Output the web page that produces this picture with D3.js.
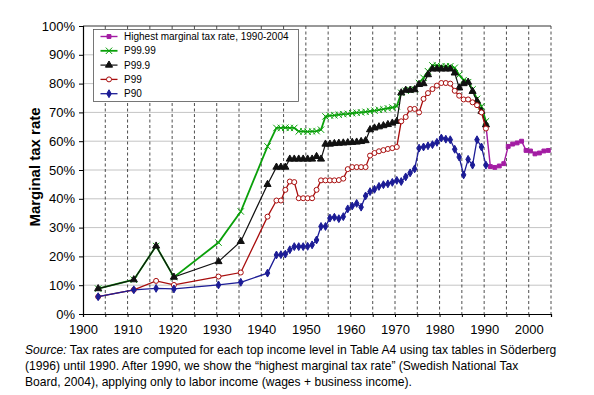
<!DOCTYPE html>
<html>
<head>
<meta charset="utf-8">
<script src="https://cdn.jsdelivr.net/npm/d3@7"></script>
<style>
  body { margin: 0; background: #fff; }
  text { font-family: "Liberation Sans", Arial, sans-serif; }
</style>
</head>
<body>
<div id="chart"></div>
<script>
// Years with data for the top percentiles (sparse before 1943, annual after)
const years = [1903, 1911, 1916, 1920, 1930, 1935, 1941,
  1943, 1944, 1945, 1946, 1947, 1948, 1949, 1950, 1951, 1952,
  1953, 1954, 1955, 1956, 1957, 1958, 1959, 1960, 1961, 1962,
  1963, 1964, 1965, 1966, 1967, 1968, 1969, 1970, 1971, 1972,
  1973, 1974, 1975, 1976, 1977, 1978, 1979, 1980, 1981, 1982,
  1983, 1984, 1985, 1986, 1987, 1988, 1989, 1990];

// Marginal tax rates in percent
const p9999 = [8.8, 11.9, 23.6, 12.8, 24.8, 35.6, 58.2,
  64.6, 64.6, 64.7, 64.6, 64.6, 63.4, 63.4, 63.3, 63.4, 63.5,
  64.0, 68.6, 68.9, 69.0, 69.2, 69.4, 69.5, 69.7, 69.9, 70.0,
  70.2, 70.4, 70.6, 70.9, 71.1, 71.4, 71.7, 72.1, 76.8, 77.5,
  77.8, 78.0, 80.2, 82.0, 84.3, 86.3, 86.3, 86.0, 86.0, 86.0,
  85.5, 83.0, 81.2, 80.5, 78.0, 74.7, 72.1, 66.9];

const p999 = [8.8, 11.9, 23.6, 12.8, 18.2, 25.2, 45.0,
  51.0, 51.0, 51.0, 53.8, 53.8, 53.8, 53.8, 53.8, 53.8, 54.7,
  53.8, 59.0, 59.0, 59.2, 59.3, 59.4, 59.5, 59.6, 59.7, 59.9,
  60.2, 64.0, 64.6, 65.0, 65.4, 65.8, 66.3, 66.9, 76.8, 77.7,
  77.7, 77.9, 79.7, 80.0, 83.1, 85.1, 85.1, 85.1, 85.1, 85.1,
  83.7, 78.5, 80.0, 80.5, 77.3, 73.9, 70.4, 65.7];

const p99 = [6.0, 8.4, 11.5, 10.1, 13.0, 14.4, 33.8,
  39.4, 39.4, 43.1, 46.0, 45.8, 40.2, 40.2, 40.2, 40.2, 43.1,
  46.4, 46.4, 46.4, 46.4, 46.5, 47.0, 50.3, 51.0, 51.0, 51.0,
  51.0, 55.0, 55.9, 56.5, 56.9, 57.3, 57.6, 58.0, 66.9, 68.4,
  71.2, 71.2, 70.0, 74.7, 76.7, 78.1, 79.3, 80.2, 80.2, 80.0,
  77.5, 75.8, 74.5, 74.5, 73.5, 72.5, 70.0, 64.4];

const p90 = [6.0, 8.4, 8.9, 8.7, 10.1, 11.0, 14.2,
  20.5, 20.6, 20.8, 22.3, 23.4, 23.4, 23.4, 23.5, 24.0, 25.7,
  30.4, 30.4, 33.3, 33.6, 33.1, 33.8, 36.5, 37.5, 38.4, 37.1,
  41.0, 42.5, 43.3, 44.3, 44.9, 45.2, 45.7, 46.4, 46.0, 47.6,
  49.0, 50.4, 57.6, 58.0, 58.4, 58.8, 59.6, 61.1, 60.7, 60.5,
  57.2, 54.5, 48.3, 53.7, 51.7, 60.5, 58.0, 51.7];

// Highest marginal tax rate (Swedish National Tax Board)
const topYears = [1990, 1991, 1992, 1993, 1994, 1995, 1996, 1997,
  1998, 1999, 2000, 2001, 2002, 2003, 2004];
const topRate = [65.5, 51.2, 50.9, 51.4, 52.2, 58.2, 59.0, 59.4,
  60.0, 56.8, 56.6, 55.6, 55.9, 56.6, 56.8];

const yTicks = [0, 10, 20, 30, 40, 50, 60, 70, 80, 90, 100];
const xLabels = [1900, 1910, 1920, 1930, 1940, 1950, 1960, 1970, 1980, 1990, 2000];
const xGrid = d3.range(1905, 2006, 5);

const captionLines = [
  ["Source:", " Tax rates are computed for each top income level in Table A4 using tax tables in Söderberg"],
  ["", "(1996) until 1990. After 1990, we show the \u201Chighest marginal tax rate\u201D (Swedish National Tax"],
  ["", "Board, 2004), applying only to labor income (wages + business income)."]
];

// Points sit a little right of the year tick (mid-year)
const yearOffset = 0.4;

// Set dimensions and margins
const margin = { top: 26, right: 43, bottom: 81, left: 83 };
const width = 594 - margin.left - margin.right;
const height = 395 - margin.top - margin.bottom;

const xScale = d3.scaleLinear().domain([1900, 2005]).range([0, width]);
const yScale = d3.scaleLinear().domain([0, 100]).range([height, 0]);

const root = d3.select("#chart")
  .append("svg")
  .attr("width", 594)
  .attr("height", 395);

const svg = root.append("g")
  .attr("transform", `translate(${margin.left}, ${margin.top})`);

// Horizontal gridlines
svg.append("g")
  .selectAll("line")
  .data(yTicks.filter(d => d > 0 && d < 100))
  .join("line")
  .attr("x1", 0)
  .attr("x2", width)
  .attr("y1", d => yScale(d))
  .attr("y2", d => yScale(d))
  .attr("stroke", "#c4c4c4")
  .attr("stroke-width", 1);

// Vertical dashed gridlines every 5 years
svg.append("g")
  .selectAll("line")
  .data(xGrid)
  .join("line")
  .attr("x1", d => xScale(d))
  .attr("x2", d => xScale(d))
  .attr("y1", 0)
  .attr("y2", height)
  .attr("stroke", "#222")
  .attr("stroke-width", 0.8)
  .attr("stroke-dasharray", "3,2.5");

// Top border
svg.append("line")
  .attr("x1", 0)
  .attr("x2", width)
  .attr("y1", yScale(100))
  .attr("y2", yScale(100))
  .attr("stroke", "#333")
  .attr("stroke-width", 1);

// Marker shapes
const markers = {
  cross: sel => sel.append("path")
    .attr("d", "M-3.2,-3.2L3.2,3.2M-3.2,3.2L3.2,-3.2")
    .attr("fill", "none"),
  triangle: sel => sel.append("path")
    .attr("d", d3.symbol().type(d3.symbolTriangle).size(22)),
  circle: sel => sel.append("circle")
    .attr("r", 2.5)
    .attr("fill", "#fff"),
  diamond: sel => sel.append("path")
    .attr("d", d3.symbol().type(d3.symbolDiamond).size(18)),
  square: sel => sel.append("path")
    .attr("d", d3.symbol().type(d3.symbolSquare).size(15))
};

const series = [
  { name: "Highest marginal tax rate, 1990-2004", x: topYears, y: topRate, color: "#a31ca3", marker: "square", lw: 1.4 },
  { name: "P99.99", x: years, y: p9999, color: "#0aa00a", marker: "cross", lw: 1.8 },
  { name: "P99.9", x: years, y: p999, color: "#111", marker: "triangle", lw: 1.2 },
  { name: "P99", x: years, y: p99, color: "#a80d0d", marker: "circle", lw: 1.3 },
  { name: "P90", x: years, y: p90, color: "#1c1c96", marker: "diamond", lw: 1.3 }
];

const line = d3.line()
  .x(d => xScale(d.year + yearOffset))
  .y(d => yScale(d.value));

series.forEach(s => {
  const data = s.x.map((yr, i) => ({ year: yr, value: s.y[i] }));

  svg.append("path")
    .datum(data)
    .attr("fill", "none")
    .attr("stroke", s.color)
    .attr("stroke-width", s.lw)
    .attr("d", line);

  const pts = svg.append("g")
    .selectAll("g")
    .data(data)
    .join("g")
    .attr("transform", d => `translate(${xScale(d.year + yearOffset)},${yScale(d.value)})`);

  markers[s.marker](pts);
  pts.selectAll("path, circle")
    .attr("stroke", s.color)
    .attr("stroke-width", 1);
  if (s.marker !== "circle" && s.marker !== "cross") pts.selectAll("path").attr("fill", s.color);
});

// Y axis
svg.append("g")
  .call(d3.axisLeft(yScale)
    .tickValues(yTicks)
    .tickSize(4)
    .tickPadding(4)
    .tickFormat(d => d + "%"))
  .call(g => g.select(".domain").attr("stroke", "#000").attr("stroke-width", 1.2))
  .call(g => g.selectAll(".tick line").attr("stroke", "#000"))
  .selectAll("text")
  .style("font-size", "13px")
  .attr("fill", "#000");

// X axis
svg.append("g")
  .attr("transform", `translate(0,${height})`)
  .call(d3.axisBottom(xScale)
    .tickValues(d3.range(1900, 2006, 5))
    .tickSize(3)
    .tickPadding(8)
    .tickFormat(d => xLabels.includes(d) ? d : ""))
  .call(g => g.select(".domain").attr("stroke", "#000").attr("stroke-width", 1.2))
  .call(g => g.selectAll(".tick line").attr("stroke", "#000"))
  .selectAll("text")
  .style("font-size", "13px")
  .attr("fill", "#000");

// Y axis title
root.append("text")
  .attr("transform", "translate(40,167) rotate(-90)")
  .attr("text-anchor", "middle")
  .style("font-size", "15px")
  .style("font-weight", "bold")
  .text("Marginal tax rate");

// Legend
const legend = root.append("g")
  .attr("transform", "translate(93.5,29.5)");

legend.append("rect")
  .attr("width", 205)
  .attr("height", 72)
  .attr("fill", "#fff")
  .attr("stroke", "#555")
  .attr("stroke-width", 0.8);

const items = legend.selectAll(".item")
  .data(series)
  .join("g")
  .attr("class", "item")
  .attr("transform", (d, i) => `translate(0,${7 + i * 14.3})`);

items.append("line")
  .attr("x1", 7)
  .attr("x2", 24)
  .attr("stroke", d => d.color)
  .attr("stroke-width", d => d.lw);

items.each(function (s) {
  const g = d3.select(this).append("g").attr("transform", "translate(15.5,0)");
  markers[s.marker](g);
  g.selectAll("path, circle").attr("stroke", s.color).attr("stroke-width", 1);
  if (s.marker !== "circle" && s.marker !== "cross") g.selectAll("path").attr("fill", s.color);
});

items.append("text")
  .attr("x", 30.5)
  .attr("dy", "0.35em")
  .style("font-size", "10px")
  .text(d => d.name);

// Caption
const caption = root.append("text")
  .attr("x", 25)
  .attr("y", 354)
  .style("font-size", "12.1px");

captionLines.forEach((ln, i) => {
  const t = caption.append("tspan")
    .attr("x", 25)
    .attr("y", 354 + i * 16);
  if (ln[0]) t.append("tspan").style("font-style", "italic").text(ln[0]);
  t.append("tspan").text(ln[1]);
});
</script>
</body>
</html>
